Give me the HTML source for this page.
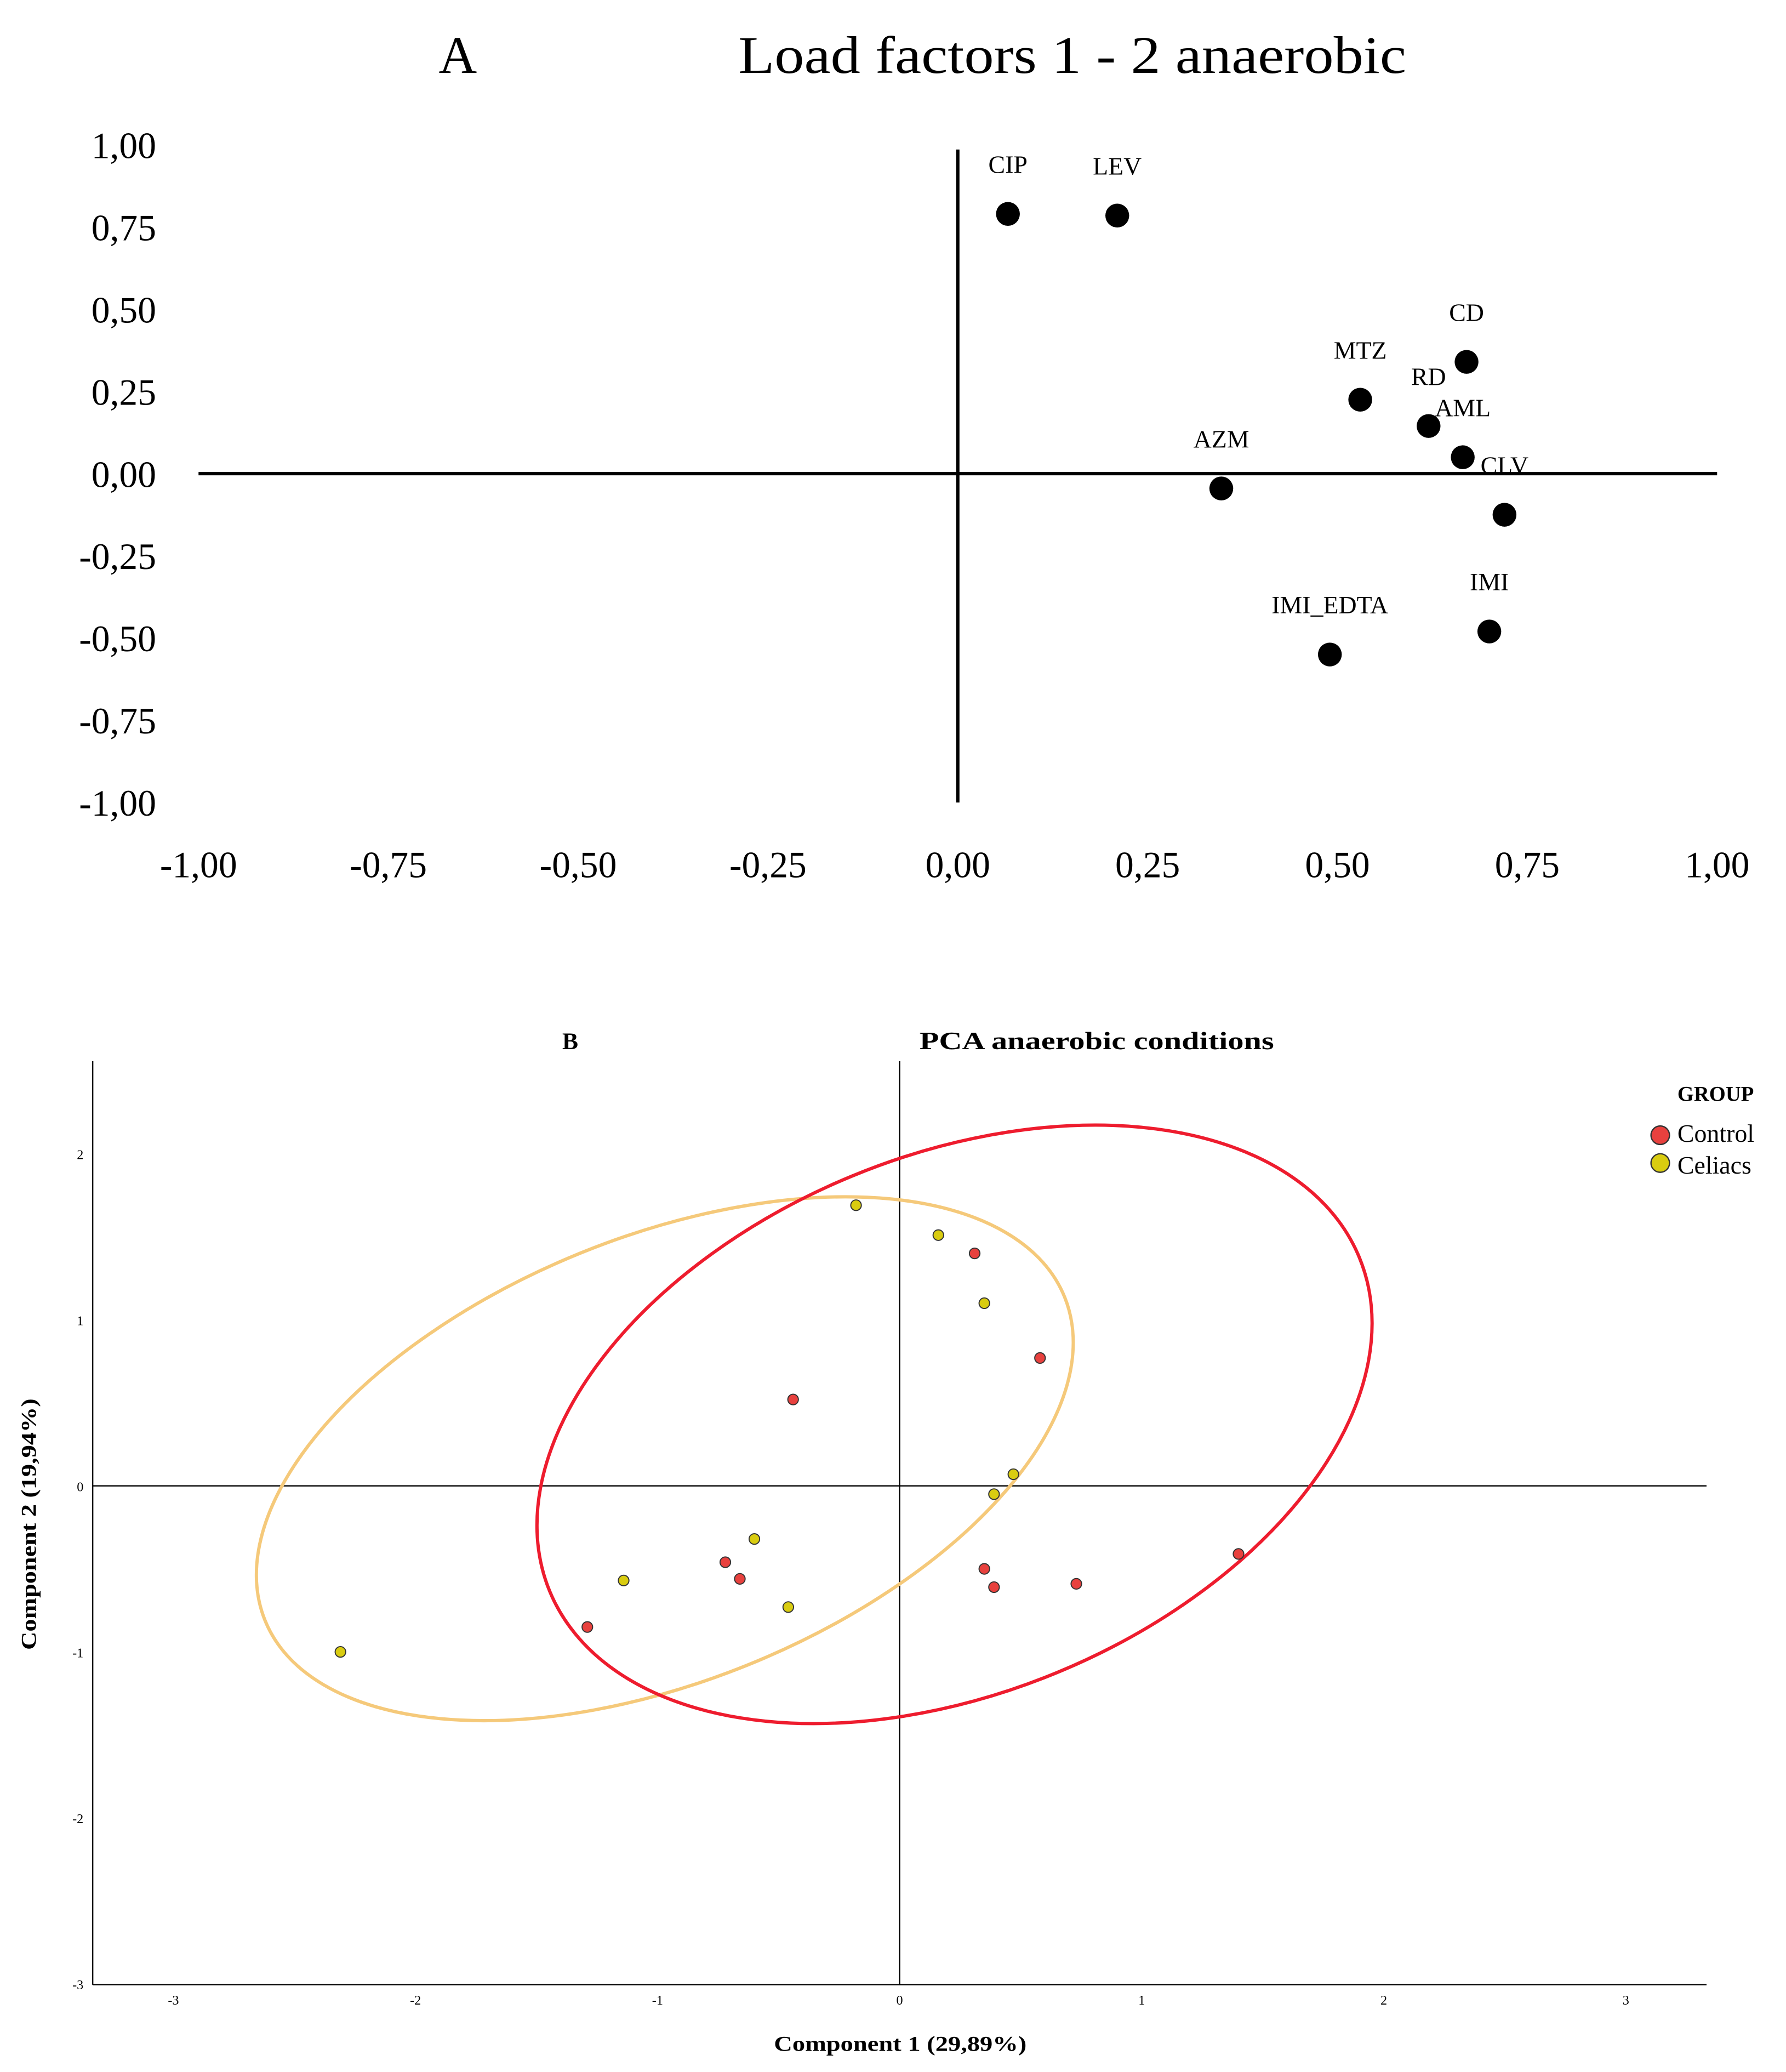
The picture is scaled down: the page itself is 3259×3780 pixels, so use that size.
<!DOCTYPE html>
<html><head><meta charset="utf-8"><style>
html,body{margin:0;padding:0;background:#fff}
svg{display:block}
text{font-family:"Liberation Serif",serif;fill:#000}
</style></head><body>
<svg id="chart" width="3259" height="3780" viewBox="0 0 1350 1566" xmlns="http://www.w3.org/2000/svg">
<g id="A"></g>
<g id="B"></g>
</svg>
<script>
// Panel A data
const loadLabels = ["CIP","LEV","CD","MTZ","RD","AML","CLV","AZM","IMI","IMI_EDTA"];
const loadX = [0.066,0.21,0.67,0.53,0.62,0.665,0.72,0.347,0.70,0.49];
const loadY = [0.79,0.785,0.34,0.225,0.145,0.05,-0.125,-0.045,-0.48,-0.55];
const aTicks = [-1,-0.75,-0.5,-0.25,0,0.25,0.5,0.75,1];
const aTickLabels = ["-1,00","-0,75","-0,50","-0,25","0,00","0,25","0,50","0,75","1,00"];
// Panel B data
const ctrlX = [0.31,0.58,-0.44,-0.72,-0.66,0.35,0.39,0.73,1.40,-1.29];
const ctrlY = [1.40,0.77,0.52,-0.46,-0.56,-0.50,-0.61,-0.59,-0.41,-0.85];
const celX = [-0.18,0.16,0.35,0.47,0.39,-0.60,-1.14,-0.46,-2.31];
const celY = [1.69,1.51,1.10,0.07,-0.05,-0.32,-0.57,-0.73,-1.0];
const bXTicks = [-3,-2,-1,0,1,2,3];
const bYTicks = [2,1,0,-1,-2,-3];

const NS="http://www.w3.org/2000/svg";
function el(parent,tag,attrs,txt){const e=document.createElementNS(NS,tag);for(const k in attrs)e.setAttribute(k,attrs[k]);if(txt!==undefined)e.textContent=txt;parent.appendChild(e);return e;}

// Panel A
const A=document.getElementById('A');
const ax=v=>724+v*574, ay=v=>358-v*248.5;
let t;
t=el(A,'text',{x:346,y:55,'font-size':40,'text-anchor':'middle'},'A');


t=el(A,'text',{x:558,y:55,'font-size':40,textLength:505,lengthAdjust:'spacingAndGlyphs'},'Load factors 1 - 2 anaerobic');


t=el(A,'line',{x1:ax(-1),x2:ax(1),y1:ay(0),y2:ay(0),stroke:'#000','stroke-width':2.5});


t=el(A,'line',{x1:ax(0),x2:ax(0),y1:113,y2:ay(-1),stroke:'#000','stroke-width':2.5});


aTicks.forEach((v,i)=>{
  let a=el(A,'text',{x:118,y:ay(v)+10,'font-size':28,'text-anchor':'end'},aTickLabels[i]);
  
  
  let b=el(A,'text',{x:ax(v),y:663,'font-size':28,'text-anchor':'middle'},aTickLabels[i]);
  
  
});
loadLabels.forEach((lab,i)=>{
  let c=el(A,'circle',{cx:ax(loadX[i]),cy:ay(loadY[i]),r:9,fill:'#000'});
  
  
  let l=el(A,'text',{x:ax(loadX[i]),y:ay(loadY[i])-31,'font-size':19,'text-anchor':'middle'},lab);
  
  
});

// Panel B
const B=document.getElementById('B');
const bx=v=>680+v*183, by=v=>1123-v*125.5;
t=el(B,'text',{x:431,y:793,'font-size':18,'font-weight':'bold','text-anchor':'middle'},'B');


t=el(B,'text',{x:695,y:793,'font-size':19,'font-weight':'bold',textLength:268,lengthAdjust:'spacingAndGlyphs'},'PCA anaerobic conditions');


t=el(B,'line',{x1:70,x2:70,y1:802,y2:1500,stroke:'#000','stroke-width':1});


t=el(B,'line',{x1:70,x2:1290,y1:1500,y2:1500,stroke:'#000','stroke-width':1});


t=el(B,'line',{x1:bx(0),x2:bx(0),y1:802,y2:1500,stroke:'#000','stroke-width':1});


t=el(B,'line',{x1:70,x2:1290,y1:by(0),y2:by(0),stroke:'#000','stroke-width':1});


bXTicks.forEach(v=>{
  let a=el(B,'text',{x:bx(v),y:1515,'font-size':10,'text-anchor':'middle'},String(v));
  
  
});
bYTicks.forEach(v=>{
  let a=el(B,'text',{x:63,y:by(v)+4,'font-size':10,'text-anchor':'end'},String(v));
  
  
});
t=el(B,'text',{x:585,y:1550,'font-size':16,'font-weight':'bold',textLength:191,lengthAdjust:'spacingAndGlyphs'},'Component 1 (29,89%)');


t=el(B,'text',{x:0,y:0,'font-size':16,'font-weight':'bold','text-anchor':'middle',textLength:190,lengthAdjust:'spacingAndGlyphs',transform:'translate(27,1152) rotate(-90)'},'Component 2 (19,94%)');


t=el(B,'ellipse',{cx:502.5,cy:1102.5,rx:326,ry:168,transform:'rotate(-22 502.5 1102.5)',fill:'none',stroke:'#f5c97a','stroke-width':2.5});


t=el(B,'ellipse',{cx:721.5,cy:1076.5,rx:331,ry:203,transform:'rotate(-22.4 721.5 1076.5)',fill:'none',stroke:'#ee1c2e','stroke-width':2.5});


ctrlX.forEach((v,i)=>{
  let c=el(B,'circle',{cx:bx(v),cy:by(ctrlY[i]),r:4,fill:'#e8413e',stroke:'#333','stroke-width':0.8});
  
  
});
celX.forEach((v,i)=>{
  let c=el(B,'circle',{cx:bx(v),cy:by(celY[i]),r:4,fill:'#d9cc10',stroke:'#333','stroke-width':0.8});
  
  
});
t=el(B,'text',{x:1268,y:832,'font-size':16,'font-weight':'bold'},'GROUP');


t=el(B,'circle',{cx:1255,cy:858,r:7,fill:'#e8413e',stroke:'#333','stroke-width':1});


t=el(B,'text',{x:1268,y:863,'font-size':19},'Control');


t=el(B,'circle',{cx:1255,cy:879,r:7,fill:'#d9cc10',stroke:'#333','stroke-width':1});


t=el(B,'text',{x:1268,y:887,'font-size':19},'Celiacs');


</script>
</body></html>
